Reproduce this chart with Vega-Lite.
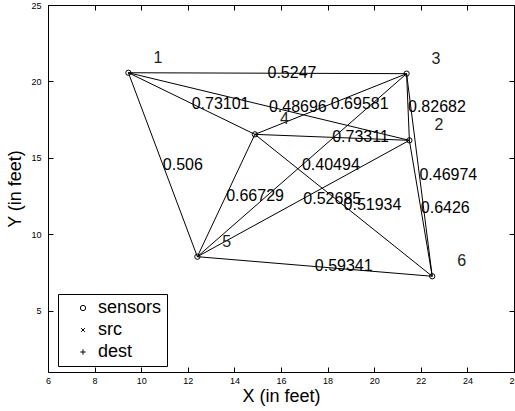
{
  "$schema": "https://vega.github.io/schema/vega-lite/v6.json",
  "width": 466,
  "height": 367,
  "autosize": {"type": "none"},
  "padding": {"left": 48, "top": 5, "right": 1, "bottom": 39},
  "background": "white",
  "config": {
    "view": {"stroke": null},
    "font": "Liberation Sans",
    "axis": {
      "grid": false,
      "domainColor": "black",
      "domainWidth": 1,
      "tickColor": "black",
      "tickWidth": 1,
      "tickSize": -5,
      "labelColor": "black",
      "labelFontSize": 9,
      "labelFlush": false,
      "labelOverlap": false,
      "labelBound": false,
      "titleColor": "black",
      "titleFontWeight": "normal",
      "titleFontSize": 18
    }
  },
  "datasets": {
    "nodes": [
      {"id": "1", "x": 9.45, "y": 20.57, "kind": "sensors"},
      {"id": "2", "x": 21.51, "y": 16.15, "kind": "sensors"},
      {"id": "3", "x": 21.39, "y": 20.51, "kind": "sensors"},
      {"id": "4", "x": 14.88, "y": 16.54, "kind": "sensors"},
      {"id": "5", "x": 12.41, "y": 8.54, "kind": "sensors"},
      {"id": "6", "x": 22.49, "y": 7.26, "kind": "sensors"}
    ],
    "edges": [
      {"from": "1", "to": "3", "x1": 9.45, "y1": 20.57, "x2": 21.39, "y2": 20.51, "mx": 15.42, "my": 20.54, "w": "0.5247"},
      {"from": "1", "to": "4", "x1": 9.45, "y1": 20.57, "x2": 14.88, "y2": 16.54, "mx": 12.165, "my": 18.555, "w": "0.73101"},
      {"from": "1", "to": "2", "x1": 9.45, "y1": 20.57, "x2": 21.51, "y2": 16.15, "mx": 15.48, "my": 18.36, "w": "0.48696"},
      {"from": "1", "to": "5", "x1": 9.45, "y1": 20.57, "x2": 12.41, "y2": 8.54, "mx": 10.93, "my": 14.555, "w": "0.506"},
      {"from": "4", "to": "3", "x1": 14.88, "y1": 16.54, "x2": 21.39, "y2": 20.51, "mx": 18.135, "my": 18.525, "w": "0.69581"},
      {"from": "3", "to": "2", "x1": 21.39, "y1": 20.51, "x2": 21.51, "y2": 16.15, "mx": 21.45, "my": 18.33, "w": "0.82682"},
      {"from": "4", "to": "2", "x1": 14.88, "y1": 16.54, "x2": 21.51, "y2": 16.15, "mx": 18.195, "my": 16.345, "w": "0.73311"},
      {"from": "5", "to": "3", "x1": 12.41, "y1": 8.54, "x2": 21.39, "y2": 20.51, "mx": 16.9, "my": 14.525, "w": "0.40494"},
      {"from": "5", "to": "4", "x1": 12.41, "y1": 8.54, "x2": 14.88, "y2": 16.54, "mx": 13.645, "my": 12.54, "w": "0.66729"},
      {"from": "5", "to": "2", "x1": 12.41, "y1": 8.54, "x2": 21.51, "y2": 16.15, "mx": 16.96, "my": 12.345, "w": "0.52685"},
      {"from": "4", "to": "6", "x1": 14.88, "y1": 16.54, "x2": 22.49, "y2": 7.26, "mx": 18.685, "my": 11.9, "w": "0.51934"},
      {"from": "3", "to": "6", "x1": 21.39, "y1": 20.51, "x2": 22.49, "y2": 7.26, "mx": 21.94, "my": 13.885, "w": "0.46974"},
      {"from": "2", "to": "6", "x1": 21.51, "y1": 16.15, "x2": 22.49, "y2": 7.26, "mx": 22.0, "my": 11.705, "w": "0.6426"},
      {"from": "5", "to": "6", "x1": 12.41, "y1": 8.54, "x2": 22.49, "y2": 7.26, "mx": 17.45, "my": 7.9, "w": "0.59341"}
    ]
  },
  "layer": [
    {
      "data": {"name": "edges"},
      "mark": {"type": "rule", "color": "black", "strokeWidth": 1},
      "encoding": {
        "x": {
          "field": "x1", "type": "quantitative",
          "scale": {"domain": [6, 26], "nice": false, "zero": false},
          "axis": {
            "orient": "bottom",
            "values": [6, 8, 10, 12, 14, 16, 18, 20, 22, 24, 26],
            "labelPadding": 9,
            "title": "X (in feet)",
            "titlePadding": 2
          }
        },
        "y": {
          "field": "y1", "type": "quantitative",
          "scale": {"domain": [1, 25], "nice": false, "zero": false},
          "axis": {
            "orient": "left",
            "values": [5, 10, 15, 20, 25],
            "labelPadding": 12,
            "title": "Y (in feet)",
            "titlePadding": 6
          }
        },
        "x2": {"field": "x2"},
        "y2": {"field": "y2"}
      }
    },
    {
      "data": {"name": "nodes"},
      "mark": {"type": "point", "filled": false, "color": "black", "strokeWidth": 1, "size": 28, "opacity": 1},
      "encoding": {
        "x": {"field": "x", "type": "quantitative", "axis": null},
        "y": {"field": "y", "type": "quantitative", "axis": null},
        "shape": {
          "field": "kind", "type": "nominal",
          "scale": {
            "domain": ["sensors", "src", "dest"],
            "range": ["circle", "M-0.7,-0.7L0.7,0.7M-0.7,0.7L0.7,-0.7", "M-1,0L1,0M0,-1L0,1"]
          },
          "legend": {
            "title": null,
            "orient": "none",
            "legendX": 10,
            "legendY": 289,
            "strokeColor": "black",
            "fillColor": "white",
            "padding": 5,
            "rowPadding": 4,
            "labelFontSize": 18,
            "labelColor": "black",
            "symbolStrokeColor": "black",
            "symbolFillColor": "transparent",
            "symbolStrokeWidth": 1,
            "symbolSize": 28,
            "symbolOffset": 11,
            "labelOffset": 6
          }
        }
      }
    },
    {
      "data": {"name": "nodes"},
      "mark": {"type": "text", "align": "left", "baseline": "middle", "dx": 25, "dy": -15, "fontSize": 16, "color": "#222222"},
      "encoding": {
        "x": {"field": "x", "type": "quantitative", "axis": null},
        "y": {"field": "y", "type": "quantitative", "axis": null},
        "text": {"field": "id"}
      }
    },
    {
      "data": {"name": "edges"},
      "mark": {"type": "text", "align": "left", "baseline": "middle", "fontSize": 16, "color": "black"},
      "encoding": {
        "x": {"field": "mx", "type": "quantitative", "axis": null},
        "y": {"field": "my", "type": "quantitative", "axis": null},
        "text": {"field": "w"}
      }
    },
    {
      "data": {"name": "nodes"},
      "mark": {"type": "point", "opacity": 0},
      "encoding": {
        "x": {
          "field": "x", "type": "quantitative",
          "axis": {"orient": "top", "values": [6, 8, 10, 12, 14, 16, 18, 20, 22, 24, 26], "labels": false, "title": null}
        },
        "y": {
          "field": "y", "type": "quantitative",
          "axis": {"orient": "right", "values": [5, 10, 15, 20, 25], "labels": false, "title": null}
        }
      }
    }
  ],
  "resolve": {"axis": {"x": "independent", "y": "independent"}}
}
